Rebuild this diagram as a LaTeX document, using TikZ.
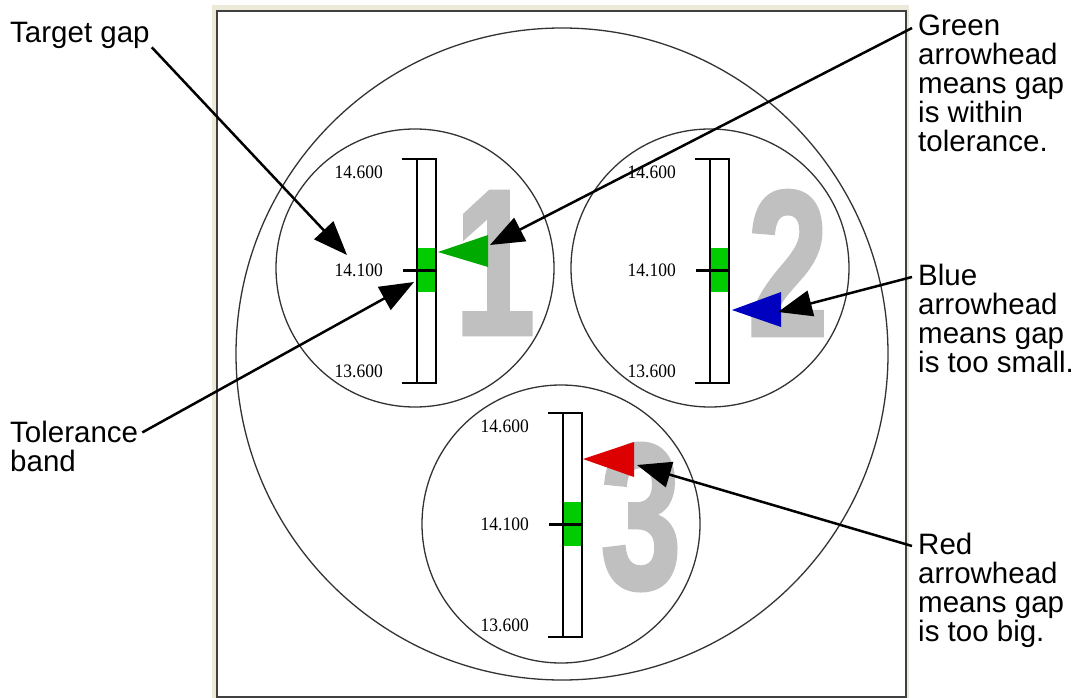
\documentclass[tikz,border=0pt]{standalone}
\usepackage{fontspec}
\setmainfont{Liberation Serif}
\setsansfont{Liberation Sans}
\newfontfamily\digitfont[FakeBold=2]{Liberation Sans}
\usetikzlibrary{arrows.meta}

\definecolor{bandgreen}{RGB}{0,204,0}
\definecolor{arrowgreen}{RGB}{0,170,0}
\definecolor{arrowblue}{RGB}{0,0,192}
\definecolor{arrowred}{RGB}{221,0,0}
\definecolor{digitgray}{RGB}{192,192,192}
\definecolor{winbeige}{RGB}{236,233,216}

\tikzset{
	ring/.style={draw=black!80, line width=1.3pt},
	gauge/.style={draw, line width=1.5pt},
	scalelbl/.style={font=\fontsize{19}{19}\selectfont, anchor=east, inner sep=0pt},
	bignum/.style={text=digitgray, font=\digitfont\bfseries\fontsize{207}{207}\selectfont, inner sep=0pt},
	callout/.style={font=\sffamily\fontsize{29.5}{29}\selectfont, align=left, inner sep=0pt},
	pointer/.style={line width=2.5pt, -{Triangle[length=34pt,width=26pt]}}
}

\begin{document}
\begin{tikzpicture}[x=1pt,y=-1pt]

	\useasboundingbox (0,0) rectangle (1081,698);

	% window frame
	\fill[winbeige] (212,5) rectangle (909,702);
	\draw[fill=white, draw=black!75, line width=2.5pt] (217,11) rectangle (906,697);

	% rings
	\draw[ring] (562,354) circle (326);
	\draw[ring] (415,268) circle (139);
	\draw[ring] (710,268) circle (139);
	\draw[ring] (561,524) circle (139);

	% gauges
	\foreach \n/\x/\y in {1/417/159, 2/710/159, 3/563/413} {
		\node (num\n) [bignum] at (\x+78,\y+104) {\scalebox{0.7}[1]{\n}};
		\fill[white] (\x,\y) rectangle (\x+19,\y+224);
		\fill[bandgreen] (\x,\y+89) rectangle (\x+19,\y+133);
		\draw[gauge] (\x,\y) rectangle (\x+19,\y+224);
		\draw[line width=1.5pt] (\x-15,\y) -- (\x,\y) (\x-15,\y+224) -- (\x,\y+224);
		\draw[line width=3pt] (\x-14,\y+111) -- (\x+19,\y+111);
		\node (hi\n) [scalelbl] at (\x-34,\y+13) {\scalebox{0.92}[1]{14.600}};
		\node (mid\n) [scalelbl] at (\x-34,\y+111) {\scalebox{0.92}[1]{14.100}};
		\node (lo\n) [scalelbl] at (\x-34,\y+212) {\scalebox{0.92}[1]{13.600}};
	}

	% gap arrowheads
	\fill[arrowgreen] (438,252) -- (488,235) -- (488,267) -- cycle;
	\fill[arrowblue] (732,310) -- (781,292) -- (781,327) -- cycle;
	\fill[arrowred] (583,459) -- (634,442) -- (634,477) -- cycle;

	% labels
	\node (tgtlbl) [callout, anchor=base west] at (10,43) {Target gap};
	\node (tollbl) [callout, anchor=base west] at (10,471) {Tolerance\\band};
	\node (greenlbl) [callout, anchor=north west] at (918,15) {Green\\arrowhead\\means gap\\is within\\tolerance.};
	\node (bluelbl) [callout, anchor=north west] at (918,264) {Blue\\arrowhead\\means gap\\is too small.};
	\node (redlbl) [callout, anchor=north west] at (918,533) {Red\\arrowhead\\means gap\\is too big.};

	\coordinate (tgttip) at (347,255);
	\coordinate (toltip) at (414,282);
	\coordinate (greentip) at (490,245);
	\coordinate (bluetip) at (778,312);
	\coordinate (redtip) at (637,465);

	\path
	([shift={(2,-2)}]tgtlbl.south east) edge[pointer] (tgttip)
	([shift={(4,12)}]tollbl.north east) edge[pointer] (toltip)
	([shift={(-6,13)}]greenlbl.north west) edge[pointer] (greentip)
	([shift={(-6,13)}]bluelbl.north west) edge[pointer] (bluetip)
	([shift={(-6,13)}]redlbl.north west) edge[pointer] (redtip);

\end{tikzpicture}
\end{document}
